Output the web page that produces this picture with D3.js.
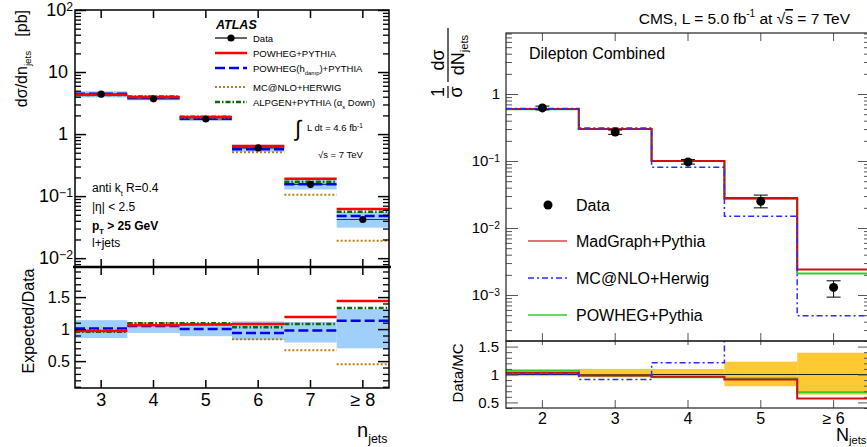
<!DOCTYPE html>
<html>
<head>
<meta charset="utf-8">
<title>Jet multiplicity: ATLAS and CMS</title>
<script src="https://cdnjs.cloudflare.com/ajax/libs/d3/7.8.5/d3.min.js"></script>
<style>
body { margin: 0; background: #fff; }
svg { font-family: "Liberation Sans", Arial, sans-serif; }
</style>
</head>
<body>
<script>

// ATLAS, l+jets (left)
var atlasBins = ["3", "4", "5", "6", "7", "\u2265 8"];
var atlasData = [4.4, 3.7, 1.75, 0.60, 0.155, 0.042];
var atlasBandLo = [3.9, 3.5, 1.62, 0.52, 0.128, 0.031];
var atlasBandHi = [4.9, 3.95, 1.9, 0.67, 0.18, 0.055];
var atlasPowheg = [4.3, 3.95, 1.88, 0.64, 0.19, 0.062];
var atlasHdamp = [4.45, 3.9, 1.76, 0.57, 0.155, 0.048];
var atlasMcnlo = [4.3, 4.0, 1.85, 0.51, 0.105, 0.019];
var atlasAlpgen = [4.25, 4.05, 1.9, 0.62, 0.17, 0.056];

var atlasRatioBandLo = [0.86, 0.94, 0.89, 0.83, 0.79, 0.70];
var atlasRatioBandHi = [1.14, 1.07, 1.09, 1.12, 1.11, 1.31];
var atlasRatioPowheg = [0.97, 1.06, 1.07, 1.08, 1.19, 1.44];
var atlasRatioHdamp = [1.01, 1.05, 1.00, 0.94, 0.98, 1.13];
var atlasRatioMcnlo = [0.98, 1.09, 1.07, 0.84, 0.67, 0.45];
var atlasRatioAlpgen = [0.96, 1.09, 1.09, 1.03, 1.08, 1.33];

var atlasMajor = [0.01, 0.1, 1, 10, 100];
var atlasRatioTicks = [0.5, 1, 1.5];

// CMS, dilepton (right)
var cmsBins = ["2", "3", "4", "5", "\u2265 6"];
var cmsData = [0.62, 0.27, 0.097, 0.025, 0.0013];
var cmsDataLo = [0.58, 0.25, 0.090, 0.020, 0.00093];
var cmsDataHi = [0.66, 0.29, 0.105, 0.031, 0.00163];
var cmsMadgraph = [0.60, 0.30, 0.100, 0.028, 0.0024];
var cmsMcnlo = [0.61, 0.31, 0.081, 0.015, 0.00049];
var cmsPowheg = [0.59, 0.30, 0.100, 0.027, 0.0021];

var cmsRatioBandLo = [0.97, 0.95, 0.95, 0.79, 0.64];
var cmsRatioBandHi = [1.05, 1.10, 1.10, 1.23, 1.39];
var cmsRatioMadgraph = [1.03, 0.98, 0.96, 0.91, 0.57];
var cmsRatioMcnlo = [1.01, 0.91, 1.21, 1.67, 2.65];
var cmsRatioPowheg = [1.07, 0.98, 0.95, 0.93, 0.68];

var cmsMajor = [0.001, 0.01, 0.1, 1];
var cmsRatioTicks = [0.5, 1, 1.5];

var svg = d3.select("body").append("svg")
    .attr("width", 867)
    .attr("height", 447);

function sup(t, base, s) {
  t.append("tspan").text(base);
  t.append("tspan").attr("dy", "-0.45em").attr("font-size", "0.68em").text(s);
}

// text with a subscript in the middle; shifts in px so the baseline comes back
function subText(t, size, a, b, c, shift) {
  t.attr("font-size", size);
  t.append("tspan").text(a);
  t.append("tspan").attr("dy", shift).attr("font-size", size * 0.62).text(b);
  if (c) t.append("tspan").attr("dy", -shift).text(c);
}

// draw a tick axis without domain line
function ticks(g, axis) {
  g.call(axis);
  g.select(".domain").remove();
  return g;
}

/* ================= ATLAS ================= */
var aL = 75, aR = 389, aTop = 10, aMid = 267, aBot = 388;

var xA = d3.scaleBand().domain(atlasBins).range([aL, aR]);
var yA = d3.scaleLog().domain([0.0072, 100]).range([aMid, aTop]);
var rA = d3.scaleLinear().domain([0.08, 1.97]).range([aBot, aMid]);
var bwA = xA.bandwidth();

var atlas = svg.append("g").attr("class", "atlas");

// uncertainty bands
atlas.selectAll(".band").data(atlasBins).enter().append("rect")
    .attr("x", function(d) { return xA(d); })
    .attr("width", bwA)
    .attr("y", function(d, i) { return yA(atlasBandHi[i]); })
    .attr("height", function(d, i) { return yA(atlasBandLo[i]) - yA(atlasBandHi[i]); })
    .attr("fill", "#9fcffa");

atlas.selectAll(".rband").data(atlasBins).enter().append("rect")
    .attr("x", function(d) { return xA(d); })
    .attr("width", bwA)
    .attr("y", function(d, i) { return rA(atlasRatioBandHi[i]); })
    .attr("height", function(d, i) { return rA(atlasRatioBandLo[i]) - rA(atlasRatioBandHi[i]); })
    .attr("fill", "#9fcffa");

var atlasStyles = [
  {name: "hdamp", color: "#0000ee", dash: "10,4", w: 2.5},
  {name: "mcnlo", color: "#b8801a", dash: "2,2", w: 2},
  {name: "alpgen", color: "#0b6b0b", dash: "5,2,1.5,2", w: 2.5},
  {name: "powheg", color: "#ff0000", dash: null, w: 2.5}
];
var atlasSeries = {hdamp: atlasHdamp, mcnlo: atlasMcnlo, alpgen: atlasAlpgen, powheg: atlasPowheg};
var atlasRatios = {hdamp: atlasRatioHdamp, mcnlo: atlasRatioMcnlo, alpgen: atlasRatioAlpgen, powheg: atlasRatioPowheg};

// data horizontal bars
atlas.selectAll(".dbar").data(atlasBins).enter().append("line")
    .attr("x1", function(d) { return xA(d); })
    .attr("x2", function(d) { return xA(d) + bwA; })
    .attr("y1", function(d, i) { return yA(atlasData[i]); })
    .attr("y2", function(d, i) { return yA(atlasData[i]); })
    .attr("stroke", "#333").attr("stroke-width", 1.2);

atlasStyles.forEach(function(s) {
  [[atlasSeries[s.name], yA], [atlasRatios[s.name], rA]].forEach(function(p) {
    var vals = p[0], sc = p[1];
    atlas.append("g").selectAll("line").data(atlasBins).enter().append("line")
        .attr("x1", function(d) { return xA(d); })
        .attr("x2", function(d) { return xA(d) + bwA; })
        .attr("y1", function(d, i) { return sc(vals[i]); })
        .attr("y2", function(d, i) { return sc(vals[i]); })
        .attr("stroke", s.color)
        .attr("stroke-width", s.w)
        .attr("stroke-dasharray", s.dash);
  });
});

atlas.selectAll(".dot").data(atlasBins).enter().append("circle")
    .attr("cx", function(d) { return xA(d) + bwA / 2; })
    .attr("cy", function(d, i) { return yA(atlasData[i]); })
    .attr("r", 3.6)
    .attr("fill", "#000");

// axes: ticks only, frames drawn after
var minorA = yA.ticks().filter(function(v) { return atlasMajor.indexOf(v) < 0; });
var tickStyle = function(g, w, c) { g.selectAll("line").attr("stroke", c).attr("stroke-width", w); g.selectAll("text").remove(); };

[[d3.axisLeft, aL], [d3.axisRight, aR]].forEach(function(a) {
  tickStyle(ticks(atlas.append("g").attr("transform", "translate(" + a[1] + ",0)"),
      a[0](yA).tickValues(minorA).tickSize(-6).tickFormat("")), 1.3, "#000");
  tickStyle(ticks(atlas.append("g").attr("transform", "translate(" + a[1] + ",0)"),
      a[0](yA).tickValues(atlasMajor).tickSize(-11).tickFormat("")), 1.5, "#000");
  tickStyle(ticks(atlas.append("g").attr("transform", "translate(" + a[1] + ",0)"),
      a[0](rA).tickValues(d3.range(0.1, 1.95, 0.1).filter(function(v) { return Math.abs(v * 2 - Math.round(v * 2)) > 0.01; })).tickSize(-6).tickFormat("")), 1.3, "#000");
  tickStyle(ticks(atlas.append("g").attr("transform", "translate(" + a[1] + ",0)"),
      a[0](rA).tickValues(atlasRatioTicks).tickSize(-11).tickFormat("")), 1.5, "#000");
});

[[d3.axisTop, aTop], [d3.axisBottom, aMid], [d3.axisTop, aMid]].forEach(function(a) {
  tickStyle(ticks(atlas.append("g").attr("transform", "translate(0," + a[1] + ")"),
      a[0](xA).tickSize(-8).tickFormat("")), 1.5, "#000");
});

var xAxisA = ticks(atlas.append("g").attr("transform", "translate(0," + aBot + ")"),
    d3.axisBottom(xA).tickSize(-8).tickPadding(5));
xAxisA.selectAll("line").attr("stroke", "#000").attr("stroke-width", 1.5);
xAxisA.selectAll("text").attr("font-size", 18).attr("font-family", "Liberation Sans, Arial, sans-serif").attr("fill", "#000");

// y labels
atlasMajor.forEach(function(v) {
  var e = Math.round(Math.log10(v));
  var t = atlas.append("text")
      .attr("y", yA(v)).attr("dy", "0.35em")
      .attr("text-anchor", "end").attr("font-size", 18);
  if (e === 0) t.attr("x", 68).text("1");
  else if (e === 1) t.attr("x", 68).text("10");
  else { t.attr("x", 73); sup(t, "10", String(e).replace("-", "\u2212")); }
});
atlasRatioTicks.forEach(function(v) {
  atlas.append("text")
      .attr("x", 70).attr("y", rA(v)).attr("dy", "0.35em")
      .attr("text-anchor", "end").attr("font-size", 16)
      .text(v);
});

// frames
atlas.append("rect").attr("x", aL).attr("y", aTop).attr("width", aR - aL).attr("height", aMid - aTop)
    .attr("fill", "none").attr("stroke", "#000").attr("stroke-width", 1.5);
atlas.append("rect").attr("x", aL).attr("y", aMid).attr("width", aR - aL).attr("height", aBot - aMid)
    .attr("fill", "none").attr("stroke", "#000").attr("stroke-width", 1.5);
atlas.append("line").attr("x1", aL - 2).attr("x2", aR + 2).attr("y1", aMid).attr("y2", aMid)
    .attr("stroke", "#000").attr("stroke-width", 2.5);

// axis titles
var yt = atlas.append("text")
    .attr("transform", "translate(27,10) rotate(-90)")
    .attr("text-anchor", "end");
subText(yt, 16, "d\u03c3/dn", "jets", "", 4);
yt.append("tspan").attr("dy", -4).attr("font-size", 16).attr("dx", 14).text("[pb]");

atlas.append("text")
    .attr("transform", "translate(34,321) rotate(-90)")
    .attr("text-anchor", "middle").attr("font-size", 16)
    .text("Expected/Data");

var nj = atlas.append("text").attr("x", 357).attr("y", 437);
subText(nj, 20, "n", "jets", "", 6);

// legend
atlas.append("text").attr("x", 216).attr("y", 29)
    .attr("font-size", 12.5).attr("font-weight", "bold").attr("font-style", "italic")
    .text("ATLAS");

var legA = [
  {label: ["Data"], color: "#000", dash: null, w: 1.2, y: 38, dot: true},
  {label: ["POWHEG+PYTHIA"], color: "#ff0000", dash: null, w: 2.5, y: 53},
  {label: ["POWHEG(h", "damp", ")+PYTHIA"], color: "#0000ee", dash: "10,4", w: 2.5, y: 68},
  {label: ["MC@NLO+HERWIG"], color: "#b8801a", dash: "2,2", w: 2, y: 87},
  {label: ["ALPGEN+PYTHIA (\u03b1", "s", " Down)"], color: "#0b6b0b", dash: "5,2,1.5,2", w: 2.5, y: 102}
];
legA.forEach(function(l) {
  atlas.append("line").attr("x1", 215).attr("x2", 247).attr("y1", l.y).attr("y2", l.y)
      .attr("stroke", l.color).attr("stroke-width", l.w).attr("stroke-dasharray", l.dash);
  if (l.dot) atlas.append("circle").attr("cx", 231).attr("cy", l.y).attr("r", 3.6).attr("fill", "#000");
  var t = atlas.append("text").attr("x", 253).attr("y", l.y + 3.5);
  if (l.label.length > 1) subText(t, 9.5, l.label[0], l.label[1], l.label[2], 3);
  else t.attr("font-size", 9.5).text(l.label[0]);
});

atlas.append("text").attr("x", 295).attr("y", 136).attr("font-size", 22).attr("font-weight", "300").text("\u222b");
var lum = atlas.append("text").attr("x", 307).attr("y", 131).attr("font-size", 9.5);
sup(lum, "L dt = 4.6 fb", "-1");
atlas.append("text").attr("x", 318).attr("y", 158).attr("font-size", 9.5).text("\u221as = 7 TeV");

var cuts = [
  {y: 192, parts: ["anti k", "t", " R=0.4"], bold: false},
  {y: 211, parts: ["|\u03b7| < 2.5"], bold: false},
  {y: 230, parts: ["p", "T", " > 25 GeV"], bold: true},
  {y: 247, parts: ["l+jets"], bold: false}
];
cuts.forEach(function(c) {
  var t = atlas.append("text").attr("x", 92).attr("y", c.y)
      .attr("font-weight", c.bold ? "bold" : "normal");
  if (c.parts.length > 1) subText(t, 12, c.parts[0], c.parts[1], c.parts[2], 3.5);
  else t.attr("font-size", 12).text(c.parts[0]);
});

/* ================= CMS ================= */
var cL = 506, cR = 870, cTop = 33, cMid = 341, cBot = 408;

var xC = d3.scaleBand().domain(cmsBins).range([cL, cR]);
var yC = d3.scaleLog().domain([2.06e-4, 8.14]).range([cMid, cTop]);
var rC = d3.scaleLinear().domain([0.4, 1.6]).range([cBot, cMid]);
var bwC = xC.bandwidth();

var cms = svg.append("g").attr("class", "cms");

svg.append("defs").call(function(d) {
  d.append("clipPath").attr("id", "clipMain").append("rect")
      .attr("x", cL).attr("y", cTop).attr("width", cR - cL).attr("height", cMid - cTop);
  d.append("clipPath").attr("id", "clipRatio").append("rect")
      .attr("x", cL).attr("y", cMid).attr("width", cR - cL).attr("height", cBot - cMid);
});

function steps(vals, sc) {
  var pts = vals.map(function(v, i) { return [xC(cmsBins[i]), sc(v)]; });
  pts.push([cR, sc(vals[vals.length - 1])]);
  return d3.line().curve(d3.curveStepAfter)(pts);
}

var cmsStyles = [
  {main: cmsPowheg, ratio: cmsRatioPowheg, color: "#33cc33", dash: null, w: 2},
  {main: cmsMadgraph, ratio: cmsRatioMadgraph, color: "#cc1111", dash: null, w: 2},
  {main: cmsMcnlo, ratio: cmsRatioMcnlo, color: "#2a2aff", dash: "6,3,2,3", w: 1.5}
];

// ratio band and unity line
var rBand = cms.append("g").attr("clip-path", "url(#clipRatio)");
rBand.selectAll("rect").data(cmsBins).enter().append("rect")
    .attr("x", function(d) { return xC(d); })
    .attr("width", bwC)
    .attr("y", function(d, i) { return rC(cmsRatioBandHi[i]); })
    .attr("height", function(d, i) { return rC(cmsRatioBandLo[i]) - rC(cmsRatioBandHi[i]); })
    .attr("fill", "#ffc933");
rBand.append("line").attr("x1", cL).attr("x2", cR).attr("y1", rC(1)).attr("y2", rC(1))
    .attr("stroke", "#222").attr("stroke-width", 1);

var mainG = cms.append("g").attr("clip-path", "url(#clipMain)");
var ratioG = cms.append("g").attr("clip-path", "url(#clipRatio)");
cmsStyles.forEach(function(s) {
  mainG.append("path").attr("d", steps(s.main, yC))
      .attr("fill", "none").attr("stroke", s.color).attr("stroke-width", s.w).attr("stroke-dasharray", s.dash);
  ratioG.append("path").attr("d", steps(s.ratio, rC))
      .attr("fill", "none").attr("stroke", s.color).attr("stroke-width", s.w).attr("stroke-dasharray", s.dash);
});

// data points with error bars
var pts = cms.append("g");
cmsBins.forEach(function(b, i) {
  var cx = xC(b) + bwC / 2;
  pts.append("line").attr("x1", cx).attr("x2", cx)
      .attr("y1", yC(cmsDataHi[i])).attr("y2", yC(cmsDataLo[i]))
      .attr("stroke", "#000").attr("stroke-width", 1);
  [cmsDataHi[i], cmsDataLo[i]].forEach(function(v) {
    pts.append("line").attr("x1", cx - 7).attr("x2", cx + 7)
        .attr("y1", yC(v)).attr("y2", yC(v))
        .attr("stroke", "#000").attr("stroke-width", 1);
  });
  pts.append("circle").attr("cx", cx).attr("cy", yC(cmsData[i])).attr("r", 4.5).attr("fill", "#000");
});

// ticks
var minorC = yC.ticks().filter(function(v) { return cmsMajor.indexOf(v) < 0; });
var rMinorC = d3.range(0.4, 1.61, 0.1).filter(function(v) { return Math.abs(v * 2 - Math.round(v * 2)) > 0.01; });
[[d3.axisLeft, cL], [d3.axisRight, cR]].forEach(function(a) {
  tickStyle(ticks(cms.append("g").attr("transform", "translate(" + a[1] + ",0)"),
      a[0](yC).tickValues(minorC).tickSize(-6).tickFormat("")), 1, "#555");
  tickStyle(ticks(cms.append("g").attr("transform", "translate(" + a[1] + ",0)"),
      a[0](yC).tickValues(cmsMajor).tickSize(-12).tickFormat("")), 1, "#555");
  tickStyle(ticks(cms.append("g").attr("transform", "translate(" + a[1] + ",0)"),
      a[0](rC).tickValues(rMinorC).tickSize(-6).tickFormat("")), 1, "#555");
  tickStyle(ticks(cms.append("g").attr("transform", "translate(" + a[1] + ",0)"),
      a[0](rC).tickValues(cmsRatioTicks).tickSize(-12).tickFormat("")), 1, "#555");
});
[[d3.axisTop, cTop, 8], [d3.axisBottom, cMid, 8], [d3.axisTop, cMid, 4]].forEach(function(a) {
  tickStyle(ticks(cms.append("g").attr("transform", "translate(0," + a[1] + ")"),
      a[0](xC).tickSize(-a[2]).tickFormat("")), 1, "#555");
});
var xAxisC = ticks(cms.append("g").attr("transform", "translate(0," + cBot + ")"),
    d3.axisBottom(xC).tickSize(-8).tickPadding(5));
xAxisC.selectAll("line").attr("stroke", "#555");
xAxisC.selectAll("text").attr("font-size", 16).attr("font-family", "Liberation Sans, Arial, sans-serif").attr("fill", "#000");

cmsMajor.forEach(function(v) {
  var e = Math.round(Math.log10(v));
  var t = cms.append("text").attr("x", 500).attr("y", yC(v)).attr("dy", "0.35em")
      .attr("text-anchor", "end").attr("font-size", 15);
  if (e === 0) t.text("1");
  else sup(t, "10", String(e).replace("-", "\u2212"));
});
cmsRatioTicks.forEach(function(v) {
  cms.append("text").attr("x", 499).attr("y", rC(v)).attr("dy", "0.35em")
      .attr("text-anchor", "end").attr("font-size", 15).text(v);
});

// frames
cms.append("rect").attr("x", cL).attr("y", cTop).attr("width", cR - cL).attr("height", cMid - cTop)
    .attr("fill", "none").attr("stroke", "#222").attr("stroke-width", 1.2);
cms.append("rect").attr("x", cL).attr("y", cMid).attr("width", cR - cL).attr("height", cBot - cMid)
    .attr("fill", "none").attr("stroke", "#222").attr("stroke-width", 1.2);

// titles
var ttl = cms.append("text").attr("x", 850).attr("y", 24).attr("text-anchor", "end").attr("font-size", 15.5);
ttl.append("tspan").text("CMS, L = 5.0 fb");
ttl.append("tspan").attr("dy", -7).attr("font-size", 10).text("-1");
ttl.append("tspan").attr("dy", 7).text(" at \u221a");
ttl.append("tspan").attr("text-decoration", "overline").text("s");
ttl.append("tspan").text(" = 7 TeV");

cms.append("text").attr("x", 529).attr("y", 59).attr("font-size", 16).text("Dilepton Combined");

cms.append("text")
    .attr("transform", "translate(463,373) rotate(-90)")
    .attr("text-anchor", "middle").attr("font-size", 15)
    .text("Data/MC");

var nc = cms.append("text").attr("x", 836).attr("y", 441);
subText(nc, 18, "N", "jets", "", 2.5);

// y title: 1/sigma dsigma/dN_jets as stacked fractions
var yl = cms.append("g").attr("transform", "translate(448,100) rotate(-90)");
yl.append("line").attr("x1", 2).attr("x2", 14).attr("y1", 0).attr("y2", 0).attr("stroke", "#000").attr("stroke-width", 1.2);
yl.append("text").attr("x", 8).attr("y", -4).attr("text-anchor", "middle").attr("font-size", 18).text("1");
yl.append("text").attr("x", 8).attr("y", 14).attr("text-anchor", "middle").attr("font-size", 18).text("\u03c3");
yl.append("line").attr("x1", 18).attr("x2", 72).attr("y1", 0).attr("y2", 0).attr("stroke", "#000").attr("stroke-width", 1.2);
yl.append("text").attr("x", 40).attr("y", -4).attr("text-anchor", "middle").attr("font-size", 18).text("d\u03c3");
var dn = yl.append("text").attr("x", 45).attr("y", 16).attr("text-anchor", "middle");
subText(dn, 18, "dN", "jets", "", 4);

// legend
cms.append("circle").attr("cx", 548).attr("cy", 205).attr("r", 4.5).attr("fill", "#000");
cms.append("text").attr("x", 576).attr("y", 211).attr("font-size", 16).text("Data");
var legC = [
  {label: "MadGraph+Pythia", color: "#dd4444", dash: null, w: 1.5, y: 241},
  {label: "MC@NLO+Herwig", color: "#2a2aff", dash: "6,3,2,3", w: 1.3, y: 278},
  {label: "POWHEG+Pythia", color: "#33cc33", dash: null, w: 1.5, y: 315}
];
legC.forEach(function(l) {
  cms.append("line").attr("x1", 528).attr("x2", 567).attr("y1", l.y).attr("y2", l.y)
      .attr("stroke", l.color).attr("stroke-width", l.w).attr("stroke-dasharray", l.dash);
  cms.append("text").attr("x", 576).attr("y", l.y + 6).attr("font-size", 16).text(l.label);
});

</script>
</body>
</html>
